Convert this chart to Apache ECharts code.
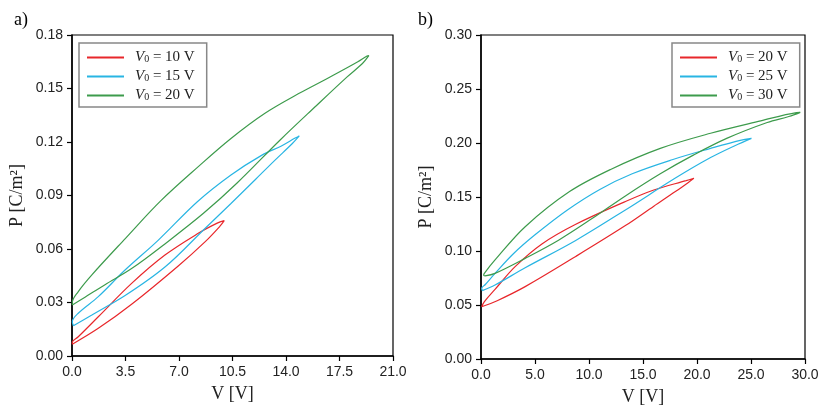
<!DOCTYPE html>
<html>
<head>
<meta charset="utf-8">
<script src="https://cdn.jsdelivr.net/npm/echarts@6.0.0/dist/echarts.min.js"></script>
<style>
html, body { margin: 0; padding: 0; background: #fff; }
#chart { width: 822px; height: 411px; }
</style>
</head>
<body>
<div id="chart"></div>
<script>
// panel a) loops: lower branch to the tip, then upper branch back
const aV10 = [0.02, 1.72, 3.9, 6.95, 8.7, 9.68, 9.96, 9.5, 8.26, 6.08, 3.9, 1.72, 0.41, 0.02, 0.02]
const aP10 = [0.0066, 0.0155, 0.029, 0.0505, 0.064, 0.0728, 0.0759, 0.0745, 0.0688, 0.0566, 0.0407, 0.022, 0.0108, 0.0077, 0.0066]
const aV15 = [0.09, 1.3, 3.5, 6.1, 8.7, 10.4, 12.0, 13.3, 14.4, 14.87, 14.6, 13.7, 12.4, 10.4, 8.2, 5.65, 3.47, 1.72, 0.41, 0.02, 0.09]
const aP15 = [0.017, 0.023, 0.034, 0.050, 0.0715, 0.0855, 0.099, 0.110, 0.119, 0.1234, 0.1222, 0.1178, 0.1125, 0.1015, 0.0865, 0.065, 0.0482, 0.0333, 0.024, 0.0192, 0.017]
const aV20 = [0.02, 0.85, 2.16, 3.9, 6.1, 8.6, 10.8, 13.6, 16.0, 18.0, 19.0, 19.42, 19.3, 18.7, 17.0, 14.8, 12.6, 10.4, 8.3, 5.8, 3.5, 1.3, 0.4, 0.02, 0.02]
const aP20 = [0.0286, 0.033, 0.040, 0.049, 0.063, 0.080, 0.097, 0.121, 0.1405, 0.1565, 0.164, 0.1684, 0.1682, 0.165, 0.157, 0.147, 0.136, 0.122, 0.1065, 0.087, 0.066, 0.0455, 0.036, 0.030, 0.0286]

// panel b) loops
const bV20 = [0.06, 1.5, 4.09, 8.73, 13.37, 16.0, 18.0, 19.2, 19.71, 19.0, 16.0, 13.3, 8.73, 5.64, 3.16, 1.3, 0.3, 0.06]
const bP20 = [0.0484, 0.054, 0.067, 0.0947, 0.1235, 0.1415, 0.155, 0.1635, 0.1673, 0.1652, 0.1565, 0.1455, 0.1245, 0.1065, 0.0855, 0.0645, 0.053, 0.0484]
const bV25 = [0.12, 1.3, 4.09, 8.73, 13.37, 18.0, 21.26, 23.5, 25.04, 24.0, 21.26, 17.7, 14.0, 11.0, 8.0, 5.0, 3.0, 1.3, 0.4, 0.06, 0.12]
const bP25 = [0.0633, 0.0685, 0.0845, 0.1095, 0.138, 0.1675, 0.1865, 0.1975, 0.2043, 0.2025, 0.195, 0.1845, 0.1715, 0.157, 0.138, 0.115, 0.0975, 0.0793, 0.069, 0.0654, 0.0633]
const bV30 = [0.37, 1.3, 4.09, 7.18, 10.28, 13.37, 16.6, 19.7, 22.8, 26.5, 28.5, 29.56, 29.2, 25.9, 21.26, 16.6, 12.0, 8.2, 4.09, 1.3, 0.31, 0.25, 0.37]
const bP30 = [0.0769, 0.0793, 0.0932, 0.110, 0.130, 0.151, 0.1715, 0.189, 0.2045, 0.219, 0.2245, 0.2284, 0.2282, 0.2205, 0.209, 0.195, 0.1755, 0.155, 0.1225, 0.0917, 0.0793, 0.0775, 0.0769]

const aLegend = ['10', '15', '20']
const bLegend = ['20', '25', '30']
const colors = ['#e8272b', '#29b5e3', '#3d9b4c']

const pairs = (v, p) => v.map((x, i) => [x, p[i]])

const tickFont = { fontFamily: 'Liberation Sans', fontSize: 14, color: '#222' }
const serif = 'Liberation Serif'

function xAxis(grid, max, step) {
  return {
    type: 'value', gridIndex: grid, min: 0, max: max, interval: step,
    name: 'V [V]', nameLocation: 'middle', nameGap: 29,
    nameTextStyle: { fontFamily: serif, fontSize: 18, color: '#222' },
    axisLine: { lineStyle: { color: '#000', width: 1.5 } },
    axisTick: { length: 5, lineStyle: { color: '#000', width: 1.2 } },
    axisLabel: Object.assign({ margin: 9, formatter: v => v.toFixed(1) }, tickFont),
    splitLine: { show: false }
  }
}
function yAxis(grid, max, step) {
  return {
    type: 'value', gridIndex: grid, min: 0, max: max, interval: step,
    name: 'P [C/m²]', nameLocation: 'middle', nameGap: 46,
    nameTextStyle: { fontFamily: serif, fontSize: 18, color: '#222' },
    axisLine: { lineStyle: { color: '#000', width: 1.5 } },
    axisTick: { length: 5, lineStyle: { color: '#000', width: 1.2 } },
    axisLabel: Object.assign({ margin: 9, formatter: v => v.toFixed(2) }, tickFont),
    splitLine: { show: false }
  }
}
function legend(names, labels, left) {
  return {
    left: left, top: 43, orient: 'vertical', data: names,
    icon: 'rect', itemWidth: 37, itemHeight: 2, itemGap: 4,
    borderColor: '#888', borderWidth: 1.5, borderRadius: 0,
    padding: [7, 12, 4, 8],
    formatter: name => '{v|V}{s|0}{t| = ' + labels[names.indexOf(name)] + ' V}',
    textStyle: {
      rich: {
        v: { fontFamily: serif, fontStyle: 'italic', fontSize: 15, lineHeight: 14, color: '#222', padding: [0, 0, 0, 6] },
        s: { fontFamily: serif, fontSize: 10, lineHeight: 14, color: '#222', verticalAlign: 'bottom' },
        t: { fontFamily: serif, fontSize: 15, lineHeight: 14, color: '#222' }
      }
    }
  }
}
function loop(name, grid, data, color) {
  return {
    name: name, type: 'line', xAxisIndex: grid, yAxisIndex: grid,
    data: data, showSymbol: false, smooth: 0.35,
    lineStyle: { color: color, width: 1.2 }, itemStyle: { color: color }
  }
}

const chart = echarts.init(document.getElementById('chart'))
chart.setOption({
  animation: false,
  title: [
    { text: 'a)', left: 9, top: 6, textStyle: { fontFamily: serif, fontSize: 18, fontWeight: 'normal', color: '#000' } },
    { text: 'b)', left: 413, top: 6, textStyle: { fontFamily: serif, fontSize: 18, fontWeight: 'normal', color: '#000' } }
  ],
  grid: [
    { left: 72, top: 35, width: 321, height: 321, show: true, borderColor: '#000', borderWidth: 1.2 },
    { left: 481, top: 35, width: 324, height: 324, show: true, borderColor: '#000', borderWidth: 1.2 }
  ],
  xAxis: [xAxis(0, 21, 3.5), xAxis(1, 30, 5)],
  yAxis: [yAxis(0, 0.18, 0.03), yAxis(1, 0.30, 0.05)],
  legend: [
    legend(['a10', 'a15', 'a20'], aLegend, 79),
    legend(['b20', 'b25', 'b30'], bLegend, 672)
  ],
  series: [
    loop('a10', 0, pairs(aV10, aP10), colors[0]),
    loop('a15', 0, pairs(aV15, aP15), colors[1]),
    loop('a20', 0, pairs(aV20, aP20), colors[2]),
    loop('b20', 1, pairs(bV20, bP20), colors[0]),
    loop('b25', 1, pairs(bV25, bP25), colors[1]),
    loop('b30', 1, pairs(bV30, bP30), colors[2])
  ]
})
</script>
</body>
</html>
